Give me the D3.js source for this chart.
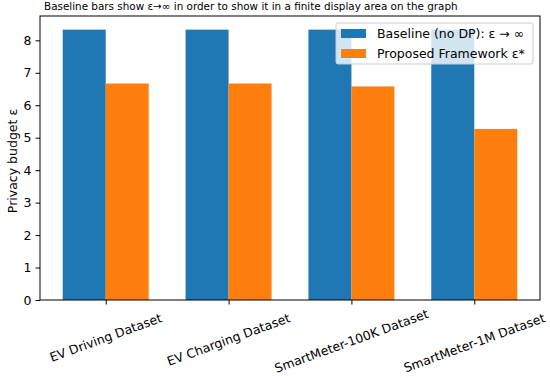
<!DOCTYPE html>
<html>
<head>
<meta charset="UTF-8">
<script src="https://cdn.jsdelivr.net/npm/d3@7"></script>
<style>
body { margin: 0; background: #fff; }
text { font-family: "DejaVu Sans", sans-serif; }
</style>
</head>
<body>
<div id="canvas"></div>
<script>
var categories = ["EV Driving Dataset", "EV Charging Dataset", "SmartMeter-100K Dataset", "SmartMeter-1M Dataset"];
var baseline = [8.33, 8.33, 8.33, 8.33];
var proposed = [6.67, 6.67, 6.58, 5.27];
var yTicks = [0, 1, 2, 3, 4, 5, 6, 7, 8];
var seriesNames = ["Baseline (no DP): ε → ∞", "Proposed Framework ε*"];
var colors = ["#1f77b4", "#ff7f0e"];

var W = 550, H = 378;
var margin = {top: 16, right: 10, bottom: 78, left: 40};
var innerW = W - margin.left - margin.right;
var innerH = H - margin.top - margin.bottom;
var barW = 0.35;

var svg = d3.select("#canvas").append("svg")
  .attr("width", W).attr("height", H);

var x = d3.scaleLinear().domain([-0.535, 3.535]).range([0, innerW]);
var y = d3.scaleLinear().domain([0, 8.75]).range([innerH, 0]);

var g = svg.append("g").attr("transform", "translate(" + margin.left + "," + margin.top + ")");

// bars
[baseline, proposed].forEach(function(vals, s) {
  g.selectAll(".bar" + s).data(vals).enter().append("rect")
    .attr("x", function(d, i) { return x(i + (s === 0 ? -barW : 0)); })
    .attr("width", x(barW) - x(0))
    .attr("y", function(d) { return y(d); })
    .attr("height", function(d) { return y(0) - y(d); })
    .attr("fill", colors[s]);
});

// y axis
var yAxis = g.append("g").call(d3.axisLeft(y).tickValues(yTicks).tickSize(4.5).tickPadding(4));
yAxis.select(".domain").remove();
yAxis.selectAll("text").style("font-size", "12.5px").attr("fill", "#000");
yAxis.selectAll("line").attr("stroke", "#000");

// x ticks
var xAxis = g.append("g").attr("transform", "translate(0," + innerH + ")")
  .call(d3.axisBottom(x).tickValues([0, 1, 2, 3]).tickSize(4.5).tickFormat(""));
xAxis.select(".domain").remove();
xAxis.selectAll("line").attr("stroke", "#000");

// rotated x labels (kept inside the bottom edge)
var ang = 20 * Math.PI / 180;
g.selectAll(".xl").data(categories).enter().append("text")
  .attr("class", "xl")
  .style("font-size", "12.5px")
  .attr("text-anchor", "middle")
  .attr("dominant-baseline", "central")
  .text(function(d) { return d; })
  .attr("transform", function(d, i) {
    var w = this.getComputedTextLength();
    var h = 15.5;
    var bh = w * Math.sin(ang) + h * Math.cos(ang);
    var cy = Math.min(innerH + 10 + bh / 2, H - margin.top - 2 - bh / 2);
    return "translate(" + x(i) + "," + cy + ") rotate(-20)";
  });

// frame
g.append("rect").attr("width", innerW).attr("height", innerH)
  .attr("fill", "none").attr("stroke", "#000").attr("stroke-width", 1);

// y label
svg.append("text")
  .attr("transform", "translate(12," + (margin.top + innerH / 2 + 3) + ") rotate(-90)")
  .attr("text-anchor", "middle")
  .attr("dominant-baseline", "central")
  .style("font-size", "12.5px")
  .text("Privacy budget ε");

// title
svg.append("text")
  .attr("x", 44).attr("y", 10)
  .style("font-size", "10.4px")
  .text("Baseline bars show ε→∞ in order to show it in a finite display area on the graph");

// legend
var lg = svg.append("g").attr("transform", "translate(336,23)");
lg.append("rect").attr("width", 197).attr("height", 41).attr("rx", 2)
  .attr("fill", "#fff").attr("fill-opacity", 0.8).attr("stroke", "#ccc");
seriesNames.forEach(function(name, i) {
  lg.append("rect").attr("x", 5).attr("y", 6 + i * 20).attr("width", 25).attr("height", 9)
    .attr("fill", colors[i]);
  lg.append("text").attr("x", 41).attr("y", 10.5 + i * 20)
    .attr("dominant-baseline", "central")
    .style("font-size", "12.5px")
    .text(name);
});
</script>
</body>
</html>
